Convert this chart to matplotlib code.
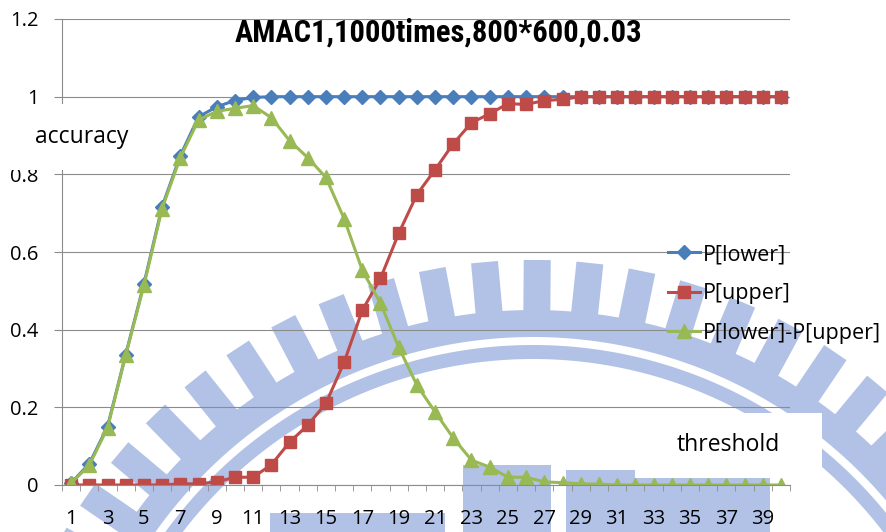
import numpy as np
import matplotlib
matplotlib.use("Agg")
from matplotlib import pyplot as plt
from matplotlib import font_manager

plt.rcParams['font.family'] = ['Open Sans', 'DejaVu Sans']

# values
thresholds = list(range(1, 41))
p_lower = [0.005, 0.055, 0.15, 0.336, 0.518, 0.717, 0.848, 0.948, 0.974, 0.99,
           0.998, 1.0, 1.0, 1.0, 1.0, 1.0, 1.0, 1.0, 1.0, 1.0,
           1.0, 1.0, 1.0, 1.0, 1.0, 1.0, 1.0, 1.0, 1.0, 1.0,
           1.0, 1.0, 1.0, 1.0, 1.0, 1.0, 1.0, 1.0, 1.0, 1.0]
p_upper = [0.0, 0.0, 0.0, 0.0, 0.0, 0.0, 0.003, 0.003, 0.008, 0.02,
           0.02, 0.052, 0.11, 0.154, 0.21, 0.316, 0.45, 0.532, 0.648, 0.748,
           0.812, 0.879, 0.933, 0.956, 0.982, 0.98, 0.99, 0.993, 1.0, 1.0,
           1.0, 1.0, 1.0, 1.0, 1.0, 1.0, 1.0, 1.0, 1.0, 1.0]
p_diff = [0.005, 0.051, 0.147, 0.334, 0.514, 0.712, 0.843, 0.94, 0.962, 0.97,
          0.977, 0.946, 0.887, 0.843, 0.792, 0.686, 0.553, 0.468, 0.355, 0.257,
          0.188, 0.121, 0.064, 0.046, 0.02, 0.02, 0.008, 0.006, 0.003, 0.002,
          0.0, 0.0, 0.0, 0.0, 0.0, 0.0, 0.0, 0.0, 0.0, 0.0]
series_names = ['P[lower]', 'P[upper]', 'P[lower]-P[upper]']
xtick_vals = list(range(1, 41, 2))
ytick_vals = [0, 0.2, 0.4, 0.6, 0.8, 1.0, 1.2]
ytick_labels = ['0', '0.2', '0.4', '0.6', '0.8', '1', '1.2']

W, H = 886, 532
fig = plt.figure(figsize=(W / 100, H / 100), dpi=100)

# faint university-logo watermark behind the chart (pixel coords, y down)
bg = fig.add_axes([0, 0, 1, 1], zorder=0)
bg.set_xlim(0, W)
bg.set_ylim(H, 0)
bg.axis('off')
wm = '#b1c2e6'
cx, cy = 533, 800


def ring(r_in, r_out, a0=-100, a1=100):
    a = np.radians(np.linspace(a0, a1, 300))
    xo = cx + r_out * np.sin(a)
    yo = cy - r_out * np.cos(a)
    xi = cx + r_in * np.sin(a[::-1])
    yi = cy - r_in * np.cos(a[::-1])
    bg.fill(np.r_[xo, xi], np.r_[yo, yi], color=wm, lw=0)


ring(463, 490)
ring(441, 455)
for k in range(-18, 19):
    t = np.radians(0.45 + 5.6 * k)
    u = np.array([np.sin(t), -np.cos(t)])
    v = np.array([np.cos(t), np.sin(t)])
    c = np.array([cx, cy])
    pts = [c + 486 * u - 13.5 * v, c + 540 * u - 13.5 * v,
           c + 540 * u + 13.5 * v, c + 486 * u + 13.5 * v]
    pts = np.array(pts)
    bg.fill(pts[:, 0], pts[:, 1], color=wm, lw=0)
for x0, y0, x1 in [(463, 465, 551), (566, 470, 770), (270, 513, 445)]:
    bg.fill([x0, x1, x1, x0], [y0, y0, H, H], color=wm, lw=0)

# main chart
ax = fig.add_axes([62 / W, 47 / H, 728 / W, 466 / H], zorder=1)
ax.set_facecolor('none')
ax.plot(thresholds, p_lower, color='#4a7ebb', lw=2.2, marker='D', ms=7.5,
        label=series_names[0])
ax.plot(thresholds, p_upper, color='#be4b48', lw=2.2, marker='s', ms=8.5,
        label=series_names[1])
ax.plot(thresholds, p_diff, color='#98b954', lw=2.2, marker='^', ms=9.5,
        label=series_names[2])

ax.set_xlim(0.5, 40.5)
ax.set_ylim(0, 1.2)
ax.set_xticks(xtick_vals)
ax.set_xticklabels([str(v) for v in xtick_vals])
ax.set_xticks(np.arange(0.5, 41, 1), minor=True)
ax.set_yticks(ytick_vals)
ax.set_yticklabels(ytick_labels)
ax.yaxis.grid(True, color='#8c8c8c', lw=0.8)
ax.set_axisbelow(True)
for s in ['top', 'right']:
    ax.spines[s].set_visible(False)
for s in ['left', 'bottom']:
    ax.spines[s].set_color('#8c8c8c')
    ax.spines[s].set_linewidth(0.8)
ax.tick_params(axis='y', length=6, color='#8c8c8c', pad=11, labelsize=14.5)
ax.tick_params(axis='x', which='major', length=0, pad=17, labelsize=14.5)
ax.tick_params(axis='x', which='minor', length=4.5, color='#8c8c8c')

ax.legend(loc='upper left', bbox_to_anchor=(668 / W, 1 - 244 / H),
          bbox_transform=fig.transFigure, frameon=False, fontsize=15.5,
          handlelength=1.5, handletextpad=0.1, borderpad=0, borderaxespad=0,
          labelspacing=0.85)

# top layer: title and the white label boxes
top = fig.add_axes([0, 0, 1, 1], zorder=3)
top.set_xlim(0, W)
top.set_ylim(H, 0)
top.axis('off')
top.fill([0, 140, 140, 0], [104, 104, 170, 170], color='white', lw=0)
top.fill([635, 822, 822, 635], [413, 413, 478, 478], color='white', lw=0)
top.text(82, 137, 'accuracy', ha='center', va='center', fontsize=16.5)
top.text(728, 445, 'threshold', ha='center', va='center', fontsize=16.5)

names = {f.name for f in font_manager.fontManager.ttflist}
narrow = [n for n in ['Liberation Sans Narrow', 'Roboto Condensed',
                      'Open Sans Condensed'] if n in names]
if narrow:
    top.text(438, 33, 'AMAC1,1000times,800*600,0.03', ha='center',
             va='center', fontsize=22, fontweight='bold',
             family=[narrow[0], 'DejaVu Sans'])
else:
    top.text(438, 33, 'AMAC1,1000times,800*600,0.03', ha='center',
             va='center', fontsize=18, fontweight='bold',
             family=['DejaVu Sans'], fontstretch='condensed')

fig.savefig('out.png', dpi=100)
